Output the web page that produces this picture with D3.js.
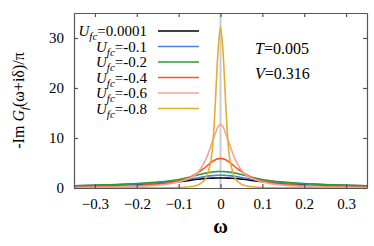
<!DOCTYPE html>
<html>
<head>
<meta charset="utf-8">
<script src="https://cdn.jsdelivr.net/npm/d3@7"></script>
<style>
body { margin:0; background:#fff; }
svg text { font-family: "Liberation Serif", "Times New Roman", Times, "DejaVu Serif", serif !important; }
</style>
</head>
<body>
<script>
var width = 374;
var height = 246;

// omega grid (half, curves are symmetric about 0)
var omegaHalf = [0, 0.004, 0.008, 0.012, 0.016, 0.02, 0.026, 0.034, 0.042, 0.05, 0.06, 0.075, 0.1, 0.125, 0.15, 0.2, 0.25, 0.3, 0.35];

var labels = ["0.0001", "-0.1", "-0.2", "-0.4", "-0.6", "-0.8"];
var colors = ["#000000", "#4a7fe6", "#2e9a33", "#ff4f1f", "#f4a58e", "#e5ad2f"];

var black  = [2.0, 2.0, 2.0, 1.99, 1.98, 1.97, 1.95, 1.91, 1.86, 1.78, 1.69, 1.53, 1.26, 1.08, 0.95, 0.76, 0.62, 0.5, 0.42];
var blue   = [2.55, 2.55, 2.54, 2.52, 2.5, 2.47, 2.42, 2.33, 2.22, 2.1, 1.96, 1.75, 1.42, 1.2, 1.02, 0.8, 0.63, 0.51, 0.43];
var green  = [3.3, 3.3, 3.28, 3.26, 3.23, 3.2, 3.13, 3.01, 2.86, 2.7, 2.48, 2.15, 1.7, 1.4, 1.2, 0.9, 0.7, 0.56, 0.46];
var red    = [5.9, 5.87, 5.78, 5.65, 5.47, 5.23, 4.87, 4.3, 3.77, 3.29, 2.74, 2.07, 1.42, 0.99, 0.72, 0.43, 0.28, 0.2, 0.15];
var pink   = [12.7, 12.5, 11.9, 11.0, 10.0, 9.14, 7.66, 5.95, 4.63, 3.55, 2.64, 1.96, 1.18, 0.8, 0.55, 0.32, 0.21, 0.14, 0.1];
var yellow = [32.2, 29.5, 24.5, 17.5, 11.5, 7.2, 4.2, 2.1, 1.25, 0.75, 0.45, 0.25, 0.09, 0.05, 0.03, 0.02, 0.015, 0.012, 0.01];

var seriesValues = [black, blue, green, red, pink, yellow];

var xTicks = [-0.3, -0.2, -0.1, 0, 0.1, 0.2, 0.3];
var yTicks = [0, 10, 20, 30];

var margin = {left: 74, right: 7, top: 13, bottom: 58};
var serif = '"Liberation Serif", "Times New Roman", Times, "DejaVu Serif", serif';

var svg = d3.select("body").append("svg")
	.attr("width", width)
	.attr("height", height)
	.style("font-family", serif);

var x = d3.scaleLinear().domain([-0.35, 0.35]).range([margin.left, width - margin.right]);
var y = d3.scaleLinear().domain([0, 35]).range([height - margin.bottom, margin.top]);

svg.append("defs").append("clipPath").attr("id", "clip")
	.append("rect")
	.attr("x", x(-0.35)).attr("y", y(35))
	.attr("width", x(0.35) - x(-0.35)).attr("height", y(0) - y(35));

// light vertical line at omega = 0
svg.append("line")
	.attr("x1", x(0)).attr("x2", x(0))
	.attr("y1", y(0)).attr("y2", y(35))
	.attr("stroke", "#cccccc")
	.attr("stroke-width", 2);

function fullSeries(vals) {
	var pts = [];
	for (var i = omegaHalf.length - 1; i > 0; i--) pts.push([-omegaHalf[i], vals[i]]);
	for (var j = 0; j < omegaHalf.length; j++) pts.push([omegaHalf[j], vals[j]]);
	return pts;
}

var line = d3.line()
	.x(function(d) { return x(d[0]); })
	.y(function(d) { return y(d[1]); })
	.curve(d3.curveMonotoneX);

svg.append("g")
	.attr("clip-path", "url(#clip)")
	.selectAll("path")
	.data(seriesValues)
	.enter()
	.append("path")
	.attr("d", function(d) { return line(fullSeries(d)); })
	.attr("fill", "none")
	.attr("stroke", function(d, i) { return colors[i]; })
	.attr("stroke-width", 1.6);

// axes, ticks inward on all four sides
var axisColor = "#555555";
svg.append("g")
	.attr("transform", "translate(0," + y(0) + ")")
	.call(d3.axisBottom(x).tickValues(xTicks).tickSizeInner(-4).tickSizeOuter(0).tickPadding(10)
		.tickFormat(function(d) { return d === 0 ? "0" : d3.format(".1f")(d); }));
svg.append("g")
	.attr("transform", "translate(0," + y(35) + ")")
	.call(d3.axisTop(x).tickValues(xTicks).tickSizeInner(-4).tickSizeOuter(0).tickFormat(""));
svg.append("g")
	.attr("transform", "translate(" + x(-0.35) + ",0)")
	.call(d3.axisLeft(y).tickValues(yTicks).tickSizeInner(-4).tickSizeOuter(0).tickPadding(10));
svg.append("g")
	.attr("transform", "translate(" + x(0.35) + ",0)")
	.call(d3.axisRight(y).tickValues(yTicks).tickSizeInner(-4).tickSizeOuter(0).tickFormat(""));

svg.selectAll("g").attr("font-family", null);
svg.selectAll(".domain, .tick line").attr("stroke", axisColor).attr("stroke-width", 1.2);
svg.selectAll(".tick text")
	.style("font-family", serif)
	.attr("font-size", 15)
	.attr("fill", "#000");

// legend
var legend = svg.append("g");
labels.forEach(function(lab, i) {
	var ly = 31 + i * 15.5;
	var t = legend.append("text")
		.attr("x", 147).attr("y", ly + 5)
		.attr("text-anchor", "end")
		.attr("font-size", 15);
	t.append("tspan").attr("font-style", "italic").text("U");
	t.append("tspan").attr("font-style", "italic").attr("font-size", 11).attr("dy", 4).text("fc");
	t.append("tspan").attr("dy", -4).text("=" + lab);
	legend.append("line")
		.attr("x1", 158).attr("x2", 199)
		.attr("y1", ly).attr("y2", ly)
		.attr("stroke", colors[i])
		.attr("stroke-width", 1.6);
});

// parameters
var p1 = svg.append("text").attr("x", 255).attr("y", 54).attr("font-size", 16);
p1.append("tspan").attr("font-style", "italic").text("T");
p1.append("tspan").text("=0.005");
var p2 = svg.append("text").attr("x", 255).attr("y", 79).attr("font-size", 16);
p2.append("tspan").attr("font-style", "italic").text("V");
p2.append("tspan").text("=0.316");

// axis titles
svg.append("text")
	.attr("x", x(0)).attr("y", 233)
	.attr("text-anchor", "middle")
	.attr("font-size", 20)
	.attr("font-weight", "bold")
	.text("ω");

var yl = svg.append("text")
	.attr("transform", "translate(24," + ((y(0) + y(35)) / 2) + ") rotate(-90)")
	.attr("text-anchor", "middle")
	.attr("font-size", 16);
yl.append("tspan").text("-Im ");
yl.append("tspan").attr("font-style", "italic").text("G");
yl.append("tspan").attr("font-style", "italic").attr("font-size", 11).attr("dy", 4).text("f");
yl.append("tspan").attr("dy", -4).text("(ω+iδ)/π");
</script>
</body>
</html>
